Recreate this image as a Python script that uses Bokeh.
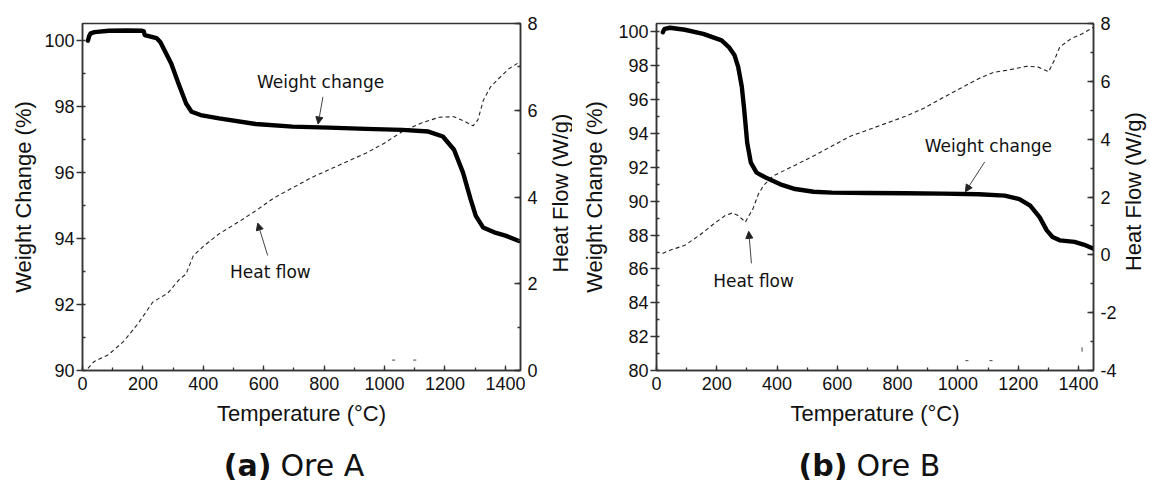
import math
from bokeh.plotting import figure
from bokeh.models import (Range1d, LinearAxis, SingleIntervalTicker, Label, Arrow, NormalHead,
                          PrintfTickFormatter)
from bokeh.layouts import row, column
from bokeh.core.properties import value
from bokeh.embed import file_html
from bokeh.resources import INLINE

nan = float("nan")

# ---------------- Ore A ----------------
wa_x = [18, 22, 27, 40, 87, 150, 197, 203, 206, 245, 258, 294, 318, 343, 361, 391, 452, 573,
        695, 816, 938, 1059, 1145, 1193, 1230, 1260, 1285, 1302, 1326, 1363, 1400, 1445]
wa_y = [99.98, 100.12, 100.2, 100.24, 100.28, 100.29, 100.28, 100.26, 100.15, 100.06, 99.93, 99.28,
        98.68, 98.08, 97.83, 97.73, 97.63, 97.46, 97.38, 97.35, 97.31, 97.28, 97.23, 97.08, 96.68,
        95.98, 95.18, 94.68, 94.33, 94.18, 94.08, 93.92]
ha_x = [18, 39, 87, 136, 185, 233, 282, 318, 343, 367, 403, 452, 513, 573, 634, 695, 756, 816,
        877, 938, 999, 1059, 1120, 1181, 1230, 1260, 1293, 1309, 1327, 1351, 1388, 1412, 1440]
ha_y = [0.05, 0.21, 0.37, 0.67, 1.09, 1.58, 1.78, 2.08, 2.23, 2.65, 2.88, 3.15, 3.41, 3.68, 3.98,
        4.21, 4.44, 4.63, 4.82, 5.01, 5.24, 5.51, 5.70, 5.84, 5.85, 5.76, 5.64, 5.78, 6.23, 6.54,
        6.80, 6.96, 7.08]
ha_stray_x = [1025, 1035, nan, 1095, 1105]
ha_stray_y = [0.24, 0.24, nan, 0.24, 0.24]

# ---------------- Ore B ----------------
wb_x = [21, 24, 27, 45, 94, 155, 216, 240, 259, 271, 283, 291, 301, 313, 332, 362, 411, 460, 521,
        582, 704, 826, 948, 1070, 1155, 1204, 1240, 1271, 1295, 1314, 1338, 1387, 1417, 1450]
wb_y = [99.98, 100.1, 100.18, 100.25, 100.13, 99.89, 99.5, 99.11, 98.62, 97.94, 96.77, 95.4, 93.45,
        92.28, 91.69, 91.4, 91.0, 90.72, 90.56, 90.51, 90.49, 90.47, 90.45, 90.41, 90.33, 90.13,
        89.74, 89.06, 88.28, 87.89, 87.69, 87.6, 87.44, 87.2]
hb_x = [20, 45, 94, 143, 191, 228, 252, 271, 289, 295, 301, 320, 338, 356, 387, 460, 521, 582, 643,
        704, 765, 826, 887, 948, 1009, 1070, 1118, 1167, 1228, 1265, 1301, 1320, 1338, 1375, 1411, 1450]
hb_y = [0.05, 0.16, 0.33, 0.68, 1.08, 1.36, 1.45, 1.36, 1.19, 1.13, 1.25, 1.59, 2.1, 2.41, 2.73,
        3.1, 3.42, 3.76, 4.1, 4.33, 4.56, 4.79, 5.07, 5.42, 5.76, 6.1, 6.31, 6.39, 6.52, 6.5, 6.33,
        6.73, 7.19, 7.47, 7.64, 7.87]
hb_stray_x = [1025, 1035, nan, 1105, 1115, nan, 1412, 1412]
hb_stray_y = [-3.66, -3.66, nan, -3.66, -3.66, nan, -3.2, -3.35]

x_label = "Temperature (\u00b0C)"
yl_label = "Weight Change (%)"
yr_label = "Heat Flow (W/g)"
cap_bold = ["(a)", "(b)"]
cap_rest = ["Ore A", "Ore B"]

TICK_FONT = "Liberation Sans"
TITLE_FONT = "Liberation Sans"
ANN_FONT = "DejaVu Sans"
ROW_H = 448


def style_axis(ax, major_in, major_out, minor_in, minor_out, standoff, label_standoff):
    ax.axis_line_color = "#333333"
    ax.axis_line_width = 1.5
    ax.major_tick_line_color = "#333333"
    ax.minor_tick_line_color = "#333333"
    ax.major_tick_line_width = 1.3
    ax.minor_tick_line_width = 1.3
    ax.major_tick_in = major_in
    ax.major_tick_out = major_out
    ax.minor_tick_in = minor_in
    ax.minor_tick_out = minor_out
    ax.major_label_text_font = TICK_FONT
    ax.major_label_text_font_size = "18px"
    ax.major_label_text_color = "#111111"
    ax.major_label_standoff = standoff
    ax.axis_label_text_font = TITLE_FONT
    ax.axis_label_text_font_size = "22px"
    ax.axis_label_text_font_style = "normal"
    ax.axis_label_text_color = "#111111"
    ax.axis_label_standoff = label_standoff


def make_panel(width, borders, yl_range, yr_range, wx, wy, hx, hy, sx, sy,
               wc_text, wc_arrow, hf_text, hf_arrow, left_std):
    bl, br, bt, bb = borders
    p = figure(width=width, height=ROW_H, output_backend="svg", toolbar_location=None,
               x_range=Range1d(0, 1450), y_range=Range1d(*yl_range),
               min_border_left=bl, min_border_right=br, min_border_top=bt, min_border_bottom=bb)
    p.extra_y_ranges = {"hf": Range1d(*yr_range)}
    p.xgrid.visible = False
    p.ygrid.visible = False
    p.outline_line_color = "#333333"
    p.outline_line_width = 1.5
    p.background_fill_color = "white"
    p.border_fill_color = "white"

    p.xaxis.ticker = SingleIntervalTicker(interval=200, num_minor_ticks=2)
    p.xaxis.axis_label = x_label
    style_axis(p.xaxis[0], 5, 0, 3, 0, 6, 8)

    p.yaxis.ticker = SingleIntervalTicker(interval=2, num_minor_ticks=2)
    p.yaxis.axis_label = yl_label
    style_axis(p.yaxis[0], 0, 6, 3, 0, 2, left_std)

    ra = LinearAxis(y_range_name="hf", ticker=SingleIntervalTicker(interval=2, num_minor_ticks=2),
                    formatter=PrintfTickFormatter(format="%d"))
    style_axis(ra, 6, 0, 3, 0, 7, 0)
    p.add_layout(ra, "right")

    p.line(hx, hy, y_range_name="hf", line_color="#222222", line_width=1.1, line_dash="4 3")
    p.line(sx, sy, y_range_name="hf", line_color="#444444", line_width=1.0)
    p.line(wx, wy, line_color="black", line_width=4.4, line_join="round", line_cap="round")

    p.add_layout(Label(x=wc_text[0], y=wc_text[1], text="Weight change", text_align="center",
                       text_baseline="middle", text_font=ANN_FONT, text_font_size="17px",
                       text_color="#111111"))
    p.add_layout(Label(x=hf_text[0], y=hf_text[1], text="Heat flow", text_align="center",
                       text_baseline="middle", text_font=ANN_FONT, text_font_size="17px",
                       text_color="#111111"))
    for a in (wc_arrow, hf_arrow):
        p.add_layout(Arrow(end=NormalHead(size=7, fill_color="#222222", line_color="#222222",
                                          line_width=1),
                           x_start=a[0], y_start=a[1], x_end=a[2], y_end=a[3],
                           line_color="#444444", line_width=1))
    return p


def bare_figure(width, height):
    f = figure(width=width, height=height, output_backend="svg", toolbar_location=None,
               x_range=Range1d(0, width), y_range=Range1d(0, height),
               x_axis_location=None, y_axis_location=None,
               min_border=0, min_border_left=0, min_border_right=0,
               min_border_top=0, min_border_bottom=0)
    f.grid.visible = False
    f.outline_line_color = None
    f.background_fill_color = "white"
    f.border_fill_color = "white"
    return f


def title_strip(width, cx, cy_from_top):
    t = bare_figure(width, ROW_H)
    t.text(x=[cx], y=[ROW_H - cy_from_top], text=[yr_label], angle=math.pi / 2,
           text_align="center", text_baseline="middle", text_font=value(TITLE_FONT),
           text_font_size="22px", text_color="#111111")
    return t


pa = make_panel(542, (82, 22, 23, ROW_H - 23 - 350), (90, 100.5), (0, 8),
                wa_x, wa_y, ha_x, ha_y, ha_stray_x, ha_stray_y,
                (788, 98.73), (796, 98.28, 780, 97.46),
                (622, 92.99), (613, 93.48, 580, 94.46), 5)
ta = title_strip(30, 18, 219)
pb = make_panel(547, (84, 26, 20, ROW_H - 20 - 350), (80, 100.5), (-4, 8),
                wb_x, wb_y, hb_x, hb_y, hb_stray_x, hb_stray_y,
                (1101, 93.25), (1089, 92.32, 1025, 90.56),
                (322, 85.31), (315, 86.33, 306, 88.22), 8)
tb = title_strip(31, 14, 217)

# caption strip below both panels
CAP_H = 483 - ROW_H
cap = bare_figure(1150, CAP_H)
split_x = [271, 847]
cap.text(x=split_x, y=[CAP_H / 2 + 1] * 2, text=cap_bold, text_align="right",
         text_baseline="middle", text_font=value(ANN_FONT), text_font_size="30px",
         text_font_style="bold", text_color="#111111")
cap.text(x=[s + 9 for s in split_x], y=[CAP_H / 2 + 1] * 2, text=cap_rest, text_align="left",
         text_baseline="middle", text_font=value(ANN_FONT), text_font_size="30px",
         text_color="#111111")

layout = column(row(pa, ta, pb, tb), cap)
open("out.html", "w").write(file_html(layout, INLINE))
